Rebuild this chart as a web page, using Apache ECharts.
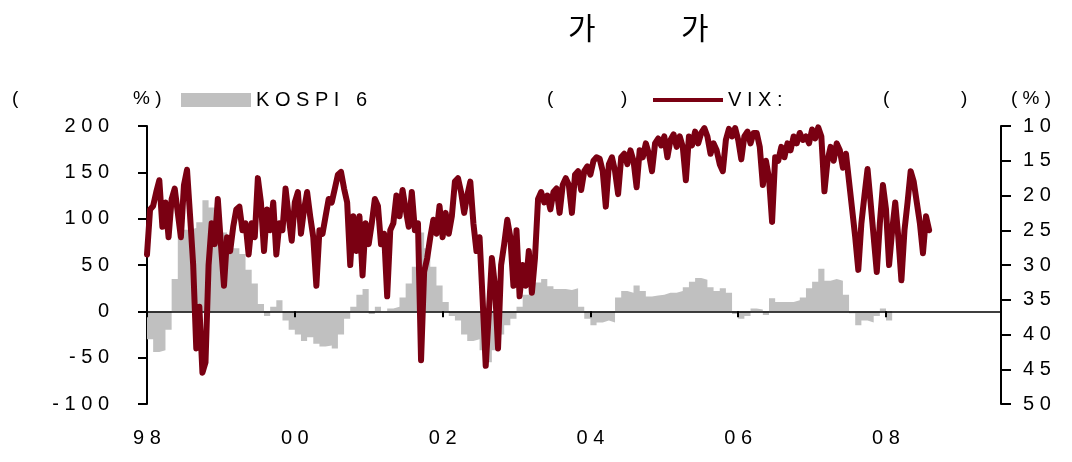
<!DOCTYPE html>
<html>
<head>
<meta charset="utf-8">
<script src="https://cdn.jsdelivr.net/npm/echarts@6/dist/echarts.min.js"></script>
<style>
html, body { margin: 0; padding: 0; background: #fff; }
#chartContainer { width: 1072px; height: 462px; }
</style>
</head>
<body>
<div id="chartContainer"></div>
<script>
// KOSPI change (%), one value a month from Jan 1998
const kospiStart = 1998;
const kospiChange = [
    -30, -44, -42, -20, 35, 92, 88, 90, 96, 120, 112, 95,
    85, 75, 68, 62, 45, 30, 8, -5, 5, 12, -10, -20,
    -25, -32, -28, -35, -38, -37, -40, -25, -8, 5, 18, 24,
    -3, 5, 0, 3, 5, 15, 30, 48, 85, 68, 48, 28,
    10, -5, -10, -25, -32, -30, -42, -55, -42, -25, -15, -8,
    5, 18, 26, 31, 35, 27, 24, 24, 23, 25, 5, -8,
    -15, -12, -10, -12, 15, 22, 20, 28, 22, 16, 17, 18,
    20, 20, 22, 26, 32, 36, 34, 26, 22, 25, 20, -3,
    -8, -5, 3, 2, -4, 14, 10, 10, 10, 12, 15, 25,
    32, 46, 33, 35, 33, 18, -2, -15, -10, -12, -5, 3,
    -10, -12
];

// VIX level, two values a month from Jan 1998
const vixStart = 1998;
const vixLevel = [
    28.5, 22, 21.5, 19.5, 17.8, 24.5, 21, 26, 20.5, 19, 22.5, 26,
    18.5, 16.3, 23, 30, 42, 36, 45.5, 44, 30, 24, 27, 20.5,
    27, 33, 26, 28, 24.5, 22, 21.6, 25, 24, 28.5, 24, 26,
    17.5, 21, 28, 22, 25, 21, 28.5, 24, 25, 19, 23, 26.5,
    21, 19.5, 25.5, 22, 19.5, 23, 26, 33, 25, 25.5, 23, 20.5,
    21, 19, 17, 16.6, 19, 21, 30, 23, 28, 23, 31.5, 24,
    27, 24, 20.5, 21.5, 27, 25.5, 34.5, 25, 24, 20, 23, 19.2,
    22, 24.5, 19.5, 25, 24, 43.7, 31, 29, 26, 23.5, 25.5, 21.5,
    26, 22.5, 25.5, 23, 18, 17.5, 19.5, 22.5, 20, 18, 24, 28,
    26, 35, 44.5, 37, 29, 33, 42, 30, 27, 23.5, 26, 33,
    25, 34.5, 30, 33, 28, 34, 29, 20.5, 19.5, 21, 20, 22,
    19.5, 19, 22.5, 18.5, 17.5, 18.5, 22.5, 17, 16.5, 19.2, 16.5, 15.8,
    17, 15, 14.5, 14.7, 16.5, 21.6, 15.5, 14.5, 16.5, 19.8, 14.5, 14,
    15.5, 13.5, 15, 18.8, 13.5, 14.5, 12.5, 14, 16.5, 12.5, 11.8, 12.8,
    11.5, 14.5, 12, 11.2, 13, 11.5, 13, 17.8, 11.5, 12.8, 10.8, 12.5,
    11, 10.3, 11.5, 14, 12.5, 13.5, 15.5, 16.5, 12, 10.4, 11.5, 10.3,
    12, 14.8, 11.5, 10.8, 12.5, 11, 11, 13, 18.5, 15, 17.5, 23.8,
    14.5, 15, 13, 14.5, 12.5, 13.5, 11.5, 12.5, 11, 12, 11.5, 12.5,
    10.5, 11.8, 10.2, 11.5, 19.4, 15, 13, 15, 12.5, 13.5, 16, 14,
    18, 22, 26, 30.7, 24, 20, 16.2, 21, 26, 31, 24, 18.5,
    22, 30, 25, 21, 26, 32.2, 25, 21, 16.5, 18, 21, 24,
    28.3, 23, 25
];

const yearTicks = [1998, 2000, 2002, 2004, 2006, 2008];
const yearLabels = ['98', '00', '02', '04', '06', '08'];
const leftTicks = [-100, -50, 0, 50, 100, 150, 200];
const rightTicks = [10, 15, 20, 25, 30, 35, 40, 45, 50];

const spaced = s => String(s).split('').join(' ');
const font = 'Liberation Sans, Arial, sans-serif';
const textStyle = {color: '#000', fontSize: 20, fontFamily: font};

const chart = echarts.init(document.getElementById('chartContainer'), null, {renderer: 'canvas'});
const option = {
    animation: false,
    grid: {left: 147, right: 71, top: 126, bottom: 58, containLabel: false, outerBoundsMode: 'none'},
    graphic: [
        {type: 'text', left: 568, top: 13, style: {text: '가', fontSize: 30, fontFamily: 'Noto Sans CJK KR', fill: '#000'}},
        {type: 'text', left: 681, top: 13, style: {text: '가', fontSize: 30, fontFamily: 'Noto Sans CJK KR', fill: '#000'}},
        {type: 'text', left: 12, top: 89, style: {text: '(', font: '19px ' + font, fill: '#000'}},
        {type: 'text', left: 133, top: 89, style: {text: '% )', font: '19px ' + font, fill: '#000'}},
        {type: 'text', left: 547, top: 89, style: {text: '(', font: '19px ' + font, fill: '#000'}},
        {type: 'text', left: 621, top: 89, style: {text: ')', font: '19px ' + font, fill: '#000'}},
        {type: 'text', left: 883, top: 89, style: {text: '(', font: '19px ' + font, fill: '#000'}},
        {type: 'text', left: 961, top: 89, style: {text: ')', font: '19px ' + font, fill: '#000'}},
        {type: 'text', left: 1011, top: 89, style: {text: '( % )', font: '19px ' + font, fill: '#000'}}
    ],
    legend: [
        {
            left: 176, top: 85, icon: 'rect', itemWidth: 70, itemHeight: 14, itemGap: 0,
            data: [{name: 'K O S P I   6', itemStyle: {color: '#c0c0c0'}}],
            textStyle: textStyle
        },
        {
            left: 648, top: 85, icon: 'rect', itemWidth: 70, itemHeight: 4, itemGap: 0,
            data: [{name: 'V I X :', itemStyle: {color: '#7a0012'}}],
            textStyle: textStyle
        }
    ],
    xAxis: {
        type: 'value',
        min: 1998,
        max: 2009.556,
        interval: 2,
        z: 2,
        splitLine: {show: false},
        axisLine: {show: true, onZero: true, lineStyle: {color: '#000', width: 1.5}},
        axisTick: {show: true, length: 6, lineStyle: {color: '#000', width: 2}},
        axisLabel: {
            margin: 24,
            color: '#000', fontSize: 20, fontFamily: font,
            formatter: v => {
                const i = yearTicks.indexOf(v);
                return i < 0 ? '' : spaced(yearLabels[i]);
            }
        }
    },
    yAxis: [
        {
            type: 'value',
            position: 'left',
            min: leftTicks[0],
            max: leftTicks[leftTicks.length - 1],
            interval: 50,
            splitLine: {show: false},
            axisLine: {show: true, onZero: false, lineStyle: {color: '#000', width: 2}},
            axisTick: {show: true, length: 9, lineStyle: {color: '#000', width: 2}},
            axisLabel: {margin: 38, color: '#000', fontSize: 20, fontFamily: font, formatter: v => spaced(v)}
        },
        {
            type: 'value',
            position: 'right',
            inverse: true,
            min: rightTicks[0],
            max: rightTicks[rightTicks.length - 1],
            interval: 5,
            splitLine: {show: false},
            axisLine: {show: true, onZero: false, lineStyle: {color: '#000', width: 2}},
            axisTick: {show: true, length: 10, lineStyle: {color: '#000', width: 2}},
            axisLabel: {margin: 22, color: '#000', fontSize: 20, fontFamily: font, formatter: v => spaced(v)}
        }
    ],
    series: [
        {
            name: 'K O S P I   6',
            type: 'line',
            yAxisIndex: 0,
            step: 'end',
            showSymbol: false,
            symbol: 'none',
            color: '#c0c0c0',
            lineStyle: {width: 0},
            areaStyle: {color: '#c0c0c0', opacity: 1},
            z: 1,
            data: kospiChange.map((v, i) => [kospiStart + i / 12, v])
        },
        {
            name: 'V I X :',
            type: 'line',
            yAxisIndex: 1,
            showSymbol: false,
            symbol: 'none',
            color: '#7a0012',
            lineStyle: {width: 6, color: '#7a0012', cap: 'round', join: 'round'},
            z: 3,
            data: vixLevel.map((v, i) => [vixStart + i / 24, v])
        }
    ]
};
chart.setOption(option);
</script>
</body>
</html>
